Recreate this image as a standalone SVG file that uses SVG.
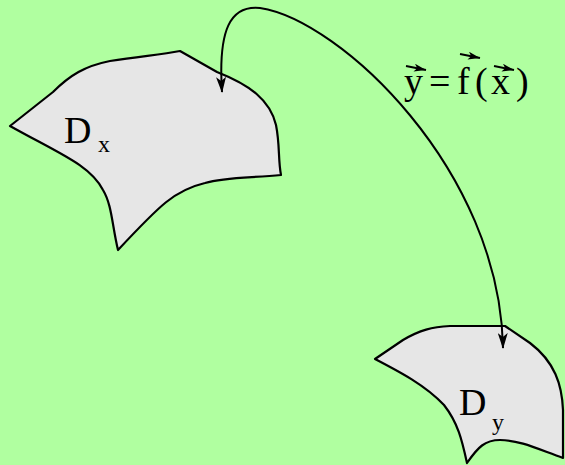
<svg xmlns="http://www.w3.org/2000/svg" width="565" height="465" viewBox="0 0 565 465">
<style>
.region{fill:#e6e6e6;stroke:#000;stroke-width:2.2;stroke-linejoin:round}
.lbl{font-family:"Liberation Serif",serif;fill:#000}
.conn{fill:none;stroke:#000;stroke-width:2}
.vec{stroke:#000;stroke-width:2}
</style>
<defs>
<marker id="ah" viewBox="0 0 16 10" refX="15" refY="5" markerWidth="16" markerHeight="10" markerUnits="userSpaceOnUse" orient="auto-start-reverse">
<path d="M0,0 L16,5 L0,10 L4,5 Z" fill="#000"/>
</marker>
<marker id="vec" viewBox="0 0 12 8" refX="12" refY="4" markerWidth="12" markerHeight="8" markerUnits="userSpaceOnUse" orient="auto">
<path d="M0,0 L12,4 L0,8 L3,4 Z" fill="#000"/>
</marker>
</defs>
<rect width="565" height="465" fill="#b0ffa0"/>
<g id="Dx">
<path class="region" d="M10,126 L53,92 C70,75 85,66 110,61 C140,56 160,55 180,51 L217,72 C250,85 270,100 276,125 C280,145 278,160 281,175 C250,178 225,177 205,183 C175,190 160,205 118,250 C112,225 112,205 103,190 C90,165 60,154 10,126 Z"/>
<text class="lbl" x="64" y="143" font-size="38">D</text>
<text class="lbl" x="98" y="152" font-size="24">x</text>
</g>
<g id="Dy">
<path class="region" d="M375,359 L403,340 C420,330 432,327 450,326 L505,326 L530,343 C555,362 562,385 563,410 L563,458 C540,450 520,440 500,440 C485,440 478,447 467,463 C462,440 458,423 444,405 C425,385 400,372 375,359 Z"/>
<text class="lbl" x="459" y="415" font-size="38">D</text>
<text class="lbl" x="492" y="430" font-size="24">y</text>
</g>
<g id="connectors">
<path class="conn" d="M222,92 C218,30 230,5 260,8 C340,20 500,170 503,348" marker-start="url(#ah)" marker-end="url(#ah)"/>
</g>
<g id="equation">
<text class="lbl" x="404" y="94" font-size="38">y</text>
<text class="lbl" x="429" y="94" font-size="38">=</text>
<text class="lbl" x="457" y="94" font-size="38">f</text>
<text class="lbl" x="475" y="94" font-size="38">(</text>
<text class="lbl" x="491" y="94" font-size="38">x</text>
<text class="lbl" x="516" y="94" font-size="38">)</text>
<line class="vec" x1="406" y1="66" x2="426" y2="70" marker-end="url(#vec)"/>
<line class="vec" x1="460" y1="54" x2="480" y2="58" marker-end="url(#vec)"/>
<line class="vec" x1="494" y1="66" x2="514" y2="70" marker-end="url(#vec)"/>
</g>
</svg>
